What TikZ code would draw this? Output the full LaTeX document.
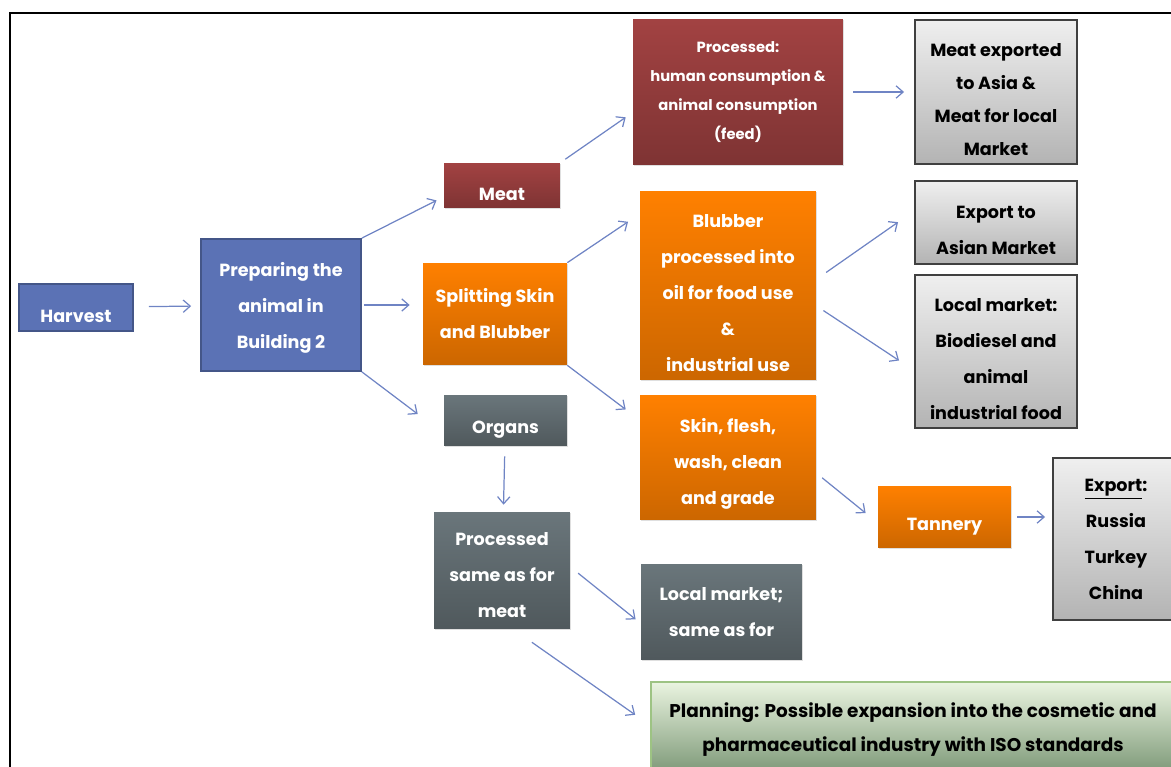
\documentclass[tikz,border=0pt]{standalone}
\usepackage{fontspec}
\setmainfont{Poppins}
\usetikzlibrary{shadows,arrows.meta}

\definecolor{prepblue}{HTML}{5B72B5}
\definecolor{meatred}{HTML}{A24242}
\definecolor{blubberor}{HTML}{FF8000}
\definecolor{organgrey}{HTML}{6A767B}
\definecolor{sidegrey}{HTML}{EFEFEF}
\definecolor{plangreen}{HTML}{EAF4E0}
\definecolor{planedge}{HTML}{9DC383}
\definecolor{arrowblue}{HTML}{6F84C4}

% extra room above the first line of a box
\newcommand{\topgap}{\rule{0pt}{15.5pt}}

\tikzset{
  box/.style={align=center, inner sep=2pt, text=white,
    font=\bfseries\fontsize{10}{20.5}\selectfont,
    drop shadow={opacity=.25, shadow xshift=.7pt, shadow yshift=-.7pt}},
  lower/.style={execute at begin node={\rule{0pt}{17.5pt}}},
  bluebox/.style={box, fill=prepblue, draw=prepblue!75!black, line width=1pt},
  redbox/.style={box, top color=meatred, bottom color=meatred!78!black},
  orbox/.style={box, top color=blubberor, bottom color=blubberor!80!black},
  greybox/.style={box, top color=organgrey, bottom color=organgrey!75!black},
  sidebox/.style={box, text=black, top color=sidegrey, bottom color=sidegrey!75!black,
    draw=black!75, line width=1.1pt},
  planbox/.style={box, text=black, top color=plangreen, bottom color=plangreen!85!green!60!black,
    draw=planedge, line width=.8pt, font=\bfseries\fontsize{10.5}{19.4}\selectfont},
  flow/.style={-{Straight Barb[length=4pt,width=7pt]}, draw=arrowblue, line width=.7pt}
}

\begin{document}
\begin{tikzpicture}[x=0.02cm, y=-0.02cm]
  \useasboundingbox (0,0) rectangle (1171,767);
  \clip (0,0) rectangle (1171,767);
  \draw[line width=1.2pt] (10,767) -- (10,13) -- (1171,13);

  % left part
  \node[bluebox, lower, minimum width=2.28cm, minimum height=0.94cm] (harvest) at (76,307.5) {Harvest};
  \node[bluebox, minimum width=3.2cm, minimum height=2.64cm] (prep) at (281,305) {\rule{0pt}{11.5pt}Preparing the\\animal in\\Building 2};
  \node[redbox, lower, minimum width=2.32cm, minimum height=0.9cm] (meat) at (502,185.5) {Meat};
  \node[orbox, minimum width=2.88cm, minimum height=2.04cm] (split) at (495,314) {Splitting Skin\\and Blubber};
  \node[greybox, lower, minimum width=2.46cm, minimum height=1.02cm] (organs) at (505.5,420.5) {Organs};
  \node[greybox, minimum width=2.72cm, minimum height=2.34cm] (procsame) at (502,570.5) {\rule{0pt}{12.5pt}Processed\\same as for\\meat};

  % middle column
  \node[redbox, minimum width=4.2cm, minimum height=2.92cm, font=\bfseries\fontsize{8.4}{16.5}\selectfont] (procmeat) at (738,92)
    {Processed:\\human consumption \&\\animal consumption\\(feed)};
  \node[orbox, minimum width=3.52cm, minimum height=3.78cm] (blubber) at (728,285.5)
    {\topgap Blubber\\processed into\\oil for food use\\\&\\industrial use};
  \node[orbox, minimum width=3.52cm, minimum height=2.5cm] (skin) at (728,457.5) {\topgap Skin, flesh,\\wash, clean\\and grade};
  \node[greybox, minimum width=3.22cm, minimum height=1.92cm] (localsame) at (721.5,612) {Local market;\\same as for};
  \node[orbox, lower, minimum width=2.66cm, minimum height=1.24cm] (tannery) at (944.5,517) {Tannery};
  \node[planbox, minimum width=10.48cm, minimum height=1.92cm] (planning) at (913,730)
    {Planning: Possible expansion into the cosmetic and\\pharmaceutical industry with ISO standards};

  % right column
  \node[sidebox, minimum width=3.24cm, minimum height=2.88cm, font=\bfseries\fontsize{10}{18.8}\selectfont] (meatexp) at (996,92)
    {\topgap Meat exported\\to Asia \&\\Meat for local\\Market};
  \node[sidebox, minimum width=3.24cm, minimum height=1.66cm] (asian) at (996,222.5) {\topgap Export to\\Asian Market};
  \node[sidebox, minimum width=3.24cm, minimum height=3.06cm] (localbio) at (996,351.5)
    {\topgap Local market:\\Biodiesel and\\animal\\industrial food};
  \node[sidebox, minimum width=2.52cm, minimum height=3.24cm] (export) at (1116,539)
    {\underline{Export}:\\Russia\\Turkey\\China};

  % arrows
  \draw[flow, shorten <=0.3cm, shorten >=0.18cm] (harvest) -- (prep);
  \draw[flow, shorten >=0.16cm] (prep.north east) -- (meat.191);
  \draw[flow, shorten <=0.04cm, shorten >=0.26cm] (prep.east) -- (prep.east -| split.west);
  \draw[flow, shorten >=0.65cm] (prep.south east) -- (organs.192);
  \draw[flow, shorten <=0.12cm, shorten >=0.17cm] (meat.north east) -- (procmeat.191);
  \draw[flow, shorten <=0.2cm, shorten >=0.2cm] (procmeat) -- (meatexp);
  \draw[flow, shorten >=0.28cm] (split.north east) -- (blubber.141);
  \draw[flow, shorten >=0.35cm] (split.south east) -- (skin.157);
  \draw[flow, shorten <=0.24cm, shorten >=0.39cm] (blubber.4) -- (asian.172);
  \draw[flow, shorten <=0.17cm, shorten >=0.36cm] (blubber.347) -- (localbio.193);
  \draw[flow, shorten <=0.2cm, shorten >=0.14cm] (organs) -- (procsame);
  \draw[flow, shorten <=0.15cm, shorten >=0.31cm] (skin.350) -- (tannery.185);
  \draw[flow, shorten <=0.12cm, shorten >=0.14cm] (tannery.east) -- (tannery.east -| export.west);
  \draw[flow, shorten <=0.2cm, shorten >=0.13cm] (procsame.3) -- (localsame.188);
  \draw[flow, shorten <=0.45cm, shorten >=0.37cm] (procsame.281) -- (planning.179);
\end{tikzpicture}
\end{document}
